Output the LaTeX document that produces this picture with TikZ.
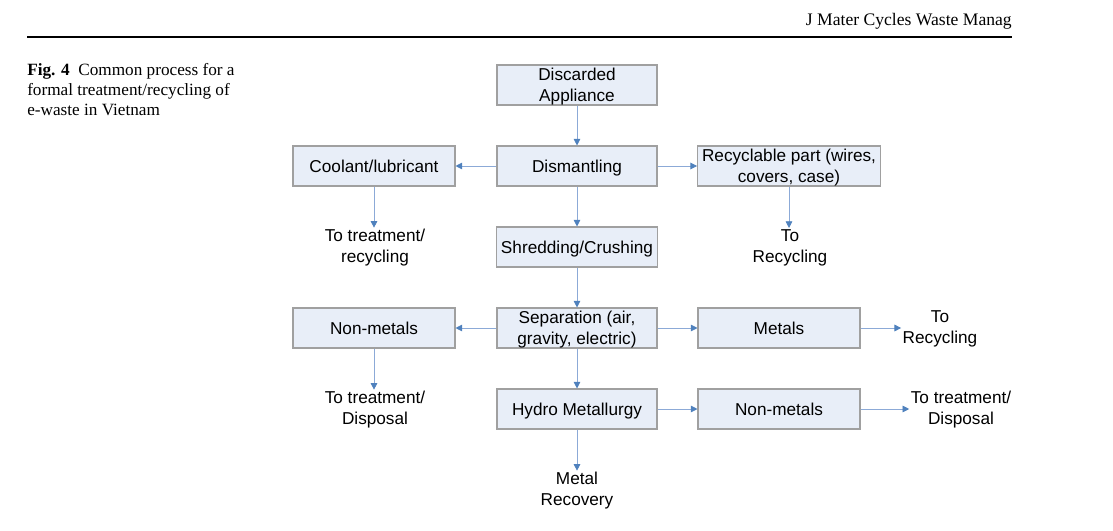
\documentclass[tikz,border=0pt]{standalone}
\usepackage{fontspec}
\setmainfont{Liberation Serif}
\newfontfamily\arialfont{Liberation Sans}
\usepackage{xcolor}
\usepackage{tikz}
\usetikzlibrary{positioning,arrows.meta}
\definecolor{boxfill}{RGB}{232,238,248}
\definecolor{boxline}{RGB}{160,160,160}
\definecolor{flowblue}{RGB}{79,129,189}
\definecolor{flowline}{RGB}{140,170,215}

\begin{document}
\begin{tikzpicture}[x=0.75pt,y=-0.75pt,
    stage/.style={rectangle,draw=boxline,fill=boxfill,line width=0.8pt,
                  minimum width=120pt,minimum height=30pt,align=center,
                  inner ysep=0.5pt,text depth=0pt,
                  font=\arialfont\fontsize{12.9}{15.75}\selectfont},
    dest/.style={align=center,inner sep=1pt,text depth=0pt,
                 font=\arialfont\fontsize{12.9}{15.75}\selectfont},
    flow/.style={draw=flowline,line width=0.6pt,
                 -{Triangle[length=5pt,width=5pt,color=flowblue,fill=flowblue]}}
]
\useasboundingbox (0,0) rectangle (1113,531);

% header and caption
\node[anchor=base east,inner sep=0pt,font=\fontsize{13.2}{15}\selectfont] (head) at (1012,26) {J Mater Cycles Waste Manag};
\draw[line width=1.5pt] (27,37) -- (1012,37);
\node[anchor=north west,inner sep=0pt,align=left,font=\fontsize{12.9}{15}\selectfont] (cap) at (27,63)
  {\textbf{Fig. 4}\ \ Common process for a\\formal treatment/recycling of\\e-waste in Vietnam};

% process boxes
\node[stage] (disc)  at (577,85)  {Discarded\\Appliance};
\node[stage] (dism)  at (577,166) {Dismantling};
\node[stage,minimum width=121.5pt] (cool) at (374,166) {Coolant/lubricant};
\node[stage,minimum width=136.5pt] (recyc) at (789,166) {Recyclable part (wires,\\covers, case)};
\node[stage] (shred) at (577,247) {Shredding/Crushing};
\node[stage] (sep)   at (577,328) {Separation (air,\\gravity, electric)};
\node[stage,minimum width=121.5pt] (nonmet) at (374,328) {Non-metals};
\node[stage,minimum width=121.5pt] (met)    at (779,328) {Metals};
\node[stage] (hydro) at (577,409) {Hydro Metallurgy};
\node[stage,minimum width=121.5pt] (nonmetb) at (779,409) {Non-metals};

% end points
\node[dest] (treatA) at (375,246) {To treatment/\\recycling};
\node[dest] (recA)   at (790,246) {To\\Recycling};
\node[dest] (recB)   at (940,327) {To\\Recycling};
\node[dest] (dispA)  at (375,408) {To treatment/\\Disposal};
\node[dest] (dispB)  at (961,408) {To treatment/\\Disposal};
\node[dest] (metrec) at (577,489) {Metal\\Recovery};

% flows
\draw[flow] (disc) -- (dism);
\draw[flow] (dism) -- (cool);
\draw[flow] (dism) -- (recyc);
\draw[flow] (dism) -- (shred);
\draw[flow] (cool) -- (cool |- treatA.north);
\draw[flow] (recyc) -- (recyc |- recA.north);
\draw[flow] (shred) -- (sep);
\draw[flow] (sep) -- (nonmet);
\draw[flow] (sep) -- (met);
\draw[flow] (met) -- (recB.west |- met);
\draw[flow] (nonmet) -- (nonmet |- dispA.north);
\draw[flow] (sep) -- (hydro);
\draw[flow] (hydro) -- (nonmetb);
\draw[flow] (nonmetb) -- (dispB.west |- nonmetb);
\draw[flow] (hydro) -- (metrec);
\end{tikzpicture}
\end{document}
